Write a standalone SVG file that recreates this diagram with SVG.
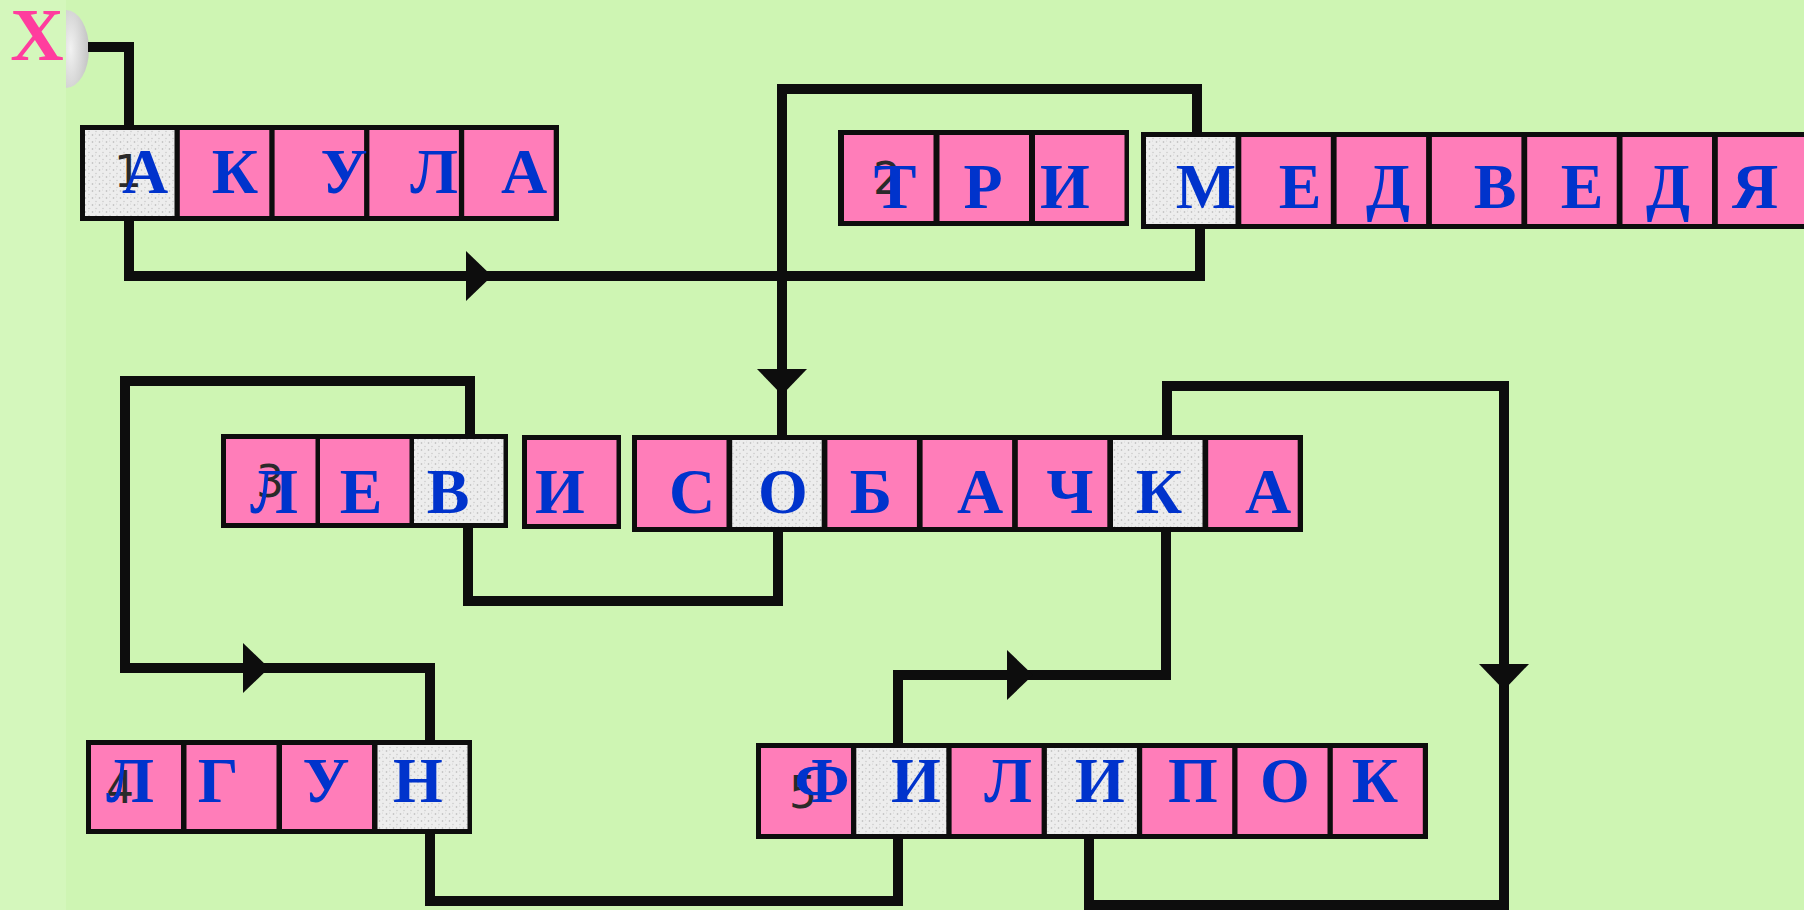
<svg xmlns="http://www.w3.org/2000/svg" xmlns:xlink="http://www.w3.org/1999/xlink" width="1804" height="910" viewBox="0 0 1804 910">
  <style>
    .line { fill: none; stroke: #0d0d0d; stroke-width: 10; stroke-linejoin: miter; stroke-linecap: butt; }
    .frame { fill: #0d0d0d; }
    .pink { fill: #FF7DB9; }
    .grey { fill: url(#speck); }
    .ltr { font-family: "Liberation Serif", "Times New Roman", serif; font-weight: bold; font-size: 64px; fill: #0033CC; text-anchor: middle; }
    .num { font-family: "DejaVu Sans", "Liberation Sans", sans-serif; font-size: 44px; fill: #2a2a2a; }
    .arrow { fill: #0d0d0d; }
  </style>
  <defs>
    <pattern id="speck" width="7" height="7" patternUnits="userSpaceOnUse">
      <rect width="7" height="7" fill="#EDEDED"/>
      <circle cx="1.5" cy="2" r="0.8" fill="#B5B5B5"/>
      <circle cx="5" cy="5.5" r="0.7" fill="#C6C6C6"/>
      <circle cx="4.5" cy="1" r="0.5" fill="#D0D0D0"/>
    </pattern>
    <radialGradient id="knobg" cx="0.2" cy="0.5" r="0.9">
      <stop offset="0" stop-color="#F2F2F2"/>
      <stop offset="1" stop-color="#BDBDBD"/>
    </radialGradient>
    <path id="ah" d="M0,0 L-26,-25 L-26,25 Z"/>
  </defs>

  <rect x="0" y="0" width="1804" height="910" fill="#CEF5B3"/>
  <rect x="0" y="0" width="66" height="910" fill="#D4F7BC"/>

  <g id="start">
    <path d="M66,10 A23,39 0 0 1 66,88 Z" fill="url(#knobg)"/>
    <text x="37" y="60" font-family="Liberation Serif, Times New Roman, serif" font-weight="bold" font-size="74" fill="#FF3D9E" text-anchor="middle">X</text>
  </g>

  <g id="connectors">
    <polyline class="line" points="88,47 129,47 129,127"/>
    <polyline class="line" points="129,219 129,276 1200,276 1200,227"/>
    <polyline class="line" points="782,437 782,89 1197,89 1197,134"/>
    <polyline class="line" points="470,436 470,381 125,381 125,668 430,668 430,742"/>
    <polyline class="line" points="468,526 468,601 778,601 778,530"/>
    <polyline class="line" points="1167,437 1167,386 1504,386 1504,905 1089,905 1089,837"/>
    <polyline class="line" points="1166,530 1166,675 898,675 898,745"/>
    <polyline class="line" points="430,832 430,901 898,901 898,837"/>
    <use href="#ah" class="arrow" transform="translate(492,276)"/>
    <use href="#ah" class="arrow" transform="translate(782,395) rotate(90)"/>
    <use href="#ah" class="arrow" transform="translate(269,668)"/>
    <use href="#ah" class="arrow" transform="translate(1033,675)"/>
    <use href="#ah" class="arrow" transform="translate(1504,690) rotate(90)"/>
  </g>

  <g id="word1">
    <rect class="frame" x="80" y="125" width="479" height="96"/>
    <rect class="grey" x="85" y="130" width="89.5" height="86"/>
    <rect class="pink" x="179.8" y="130" width="89.5" height="86"/>
    <rect class="pink" x="274.6" y="130" width="89.5" height="86"/>
    <rect class="pink" x="369.4" y="130" width="89.5" height="86"/>
    <rect class="pink" x="464.2" y="130" width="89.5" height="86"/>
    <text class="num" x="114" y="187">1</text>
    <text class="ltr" x="145" y="193">А</text>
    <text class="ltr" x="235" y="193">К</text>
    <text class="ltr" x="344" y="193">У</text>
    <text class="ltr" x="434" y="193">Л</text>
    <text class="ltr" x="524" y="193">А</text>
  </g>

  <g id="word2">
    <rect class="frame" x="838" y="130" width="291" height="96"/>
    <rect class="pink" x="844" y="135" width="89.5" height="86"/>
    <rect class="pink" x="939.5" y="135" width="89.5" height="86"/>
    <rect class="pink" x="1035" y="135" width="89.5" height="86"/>
    <rect class="frame" x="1141" y="132" width="680" height="97"/>
    <rect class="grey" x="1146" y="137" width="89.5" height="87"/>
    <rect class="pink" x="1241.3" y="137" width="89.5" height="87"/>
    <rect class="pink" x="1336.6" y="137" width="89.5" height="87"/>
    <rect class="pink" x="1431.9" y="137" width="89.5" height="87"/>
    <rect class="pink" x="1527.2" y="137" width="89.5" height="87"/>
    <rect class="pink" x="1622.5" y="137" width="89.5" height="87"/>
    <rect class="pink" x="1717.8" y="137" width="89.5" height="87"/>
    <text class="num" x="873" y="194">2</text>
    <text class="ltr" x="895" y="208">Т</text>
    <text class="ltr" x="983" y="208">Р</text>
    <text class="ltr" x="1065" y="208">И</text>
    <text class="ltr" x="1206" y="208">М</text>
    <text class="ltr" x="1300" y="208">Е</text>
    <text class="ltr" x="1388" y="208">Д</text>
    <text class="ltr" x="1495" y="208">В</text>
    <text class="ltr" x="1582" y="208">Е</text>
    <text class="ltr" x="1668" y="208">Д</text>
    <text class="ltr" x="1755" y="208">Я</text>
  </g>

  <g id="word3">
    <rect class="frame" x="221" y="434" width="287" height="94"/>
    <rect class="pink" x="226" y="439" width="89.5" height="84"/>
    <rect class="pink" x="320" y="439" width="89.5" height="84"/>
    <rect class="grey" x="414" y="439" width="89.5" height="84"/>
    <rect class="frame" x="522" y="435" width="99" height="94"/>
    <rect class="pink" x="527" y="440" width="89.5" height="84"/>
    <rect class="frame" x="632" y="435" width="671" height="97"/>
    <rect class="pink" x="637" y="440" width="89.5" height="87"/>
    <rect class="grey" x="732.2" y="440" width="89.5" height="87"/>
    <rect class="pink" x="827.4" y="440" width="89.5" height="87"/>
    <rect class="pink" x="922.6" y="440" width="89.5" height="87"/>
    <rect class="pink" x="1017.8" y="440" width="89.5" height="87"/>
    <rect class="grey" x="1113" y="440" width="89.5" height="87"/>
    <rect class="pink" x="1208.2" y="440" width="89.5" height="87"/>
    <text class="num" x="256" y="497">3</text>
    <text class="ltr" x="274" y="513">Л</text>
    <text class="ltr" x="361" y="513">Е</text>
    <text class="ltr" x="448" y="513">В</text>
    <text class="ltr" x="560" y="513">И</text>
    <text class="ltr" x="692" y="513">С</text>
    <text class="ltr" x="783" y="513">О</text>
    <text class="ltr" x="871" y="513">Б</text>
    <text class="ltr" x="980" y="513">А</text>
    <text class="ltr" x="1070" y="513">Ч</text>
    <text class="ltr" x="1159" y="513">К</text>
    <text class="ltr" x="1268" y="513">А</text>
  </g>

  <g id="word4">
    <rect class="frame" x="86" y="740" width="386" height="94"/>
    <rect class="pink" x="91" y="745" width="90" height="84"/>
    <rect class="pink" x="186.5" y="745" width="90" height="84"/>
    <rect class="pink" x="282" y="745" width="90" height="84"/>
    <rect class="grey" x="377.5" y="745" width="90" height="84"/>
    <text class="num" x="106" y="803">4</text>
    <text class="ltr" x="130" y="802">Л</text>
    <text class="ltr" x="218" y="802">Г</text>
    <text class="ltr" x="326" y="802">У</text>
    <text class="ltr" x="418" y="802">Н</text>
  </g>

  <g id="word5">
    <rect class="frame" x="756" y="743" width="672" height="96"/>
    <rect class="pink" x="761" y="748" width="90" height="86"/>
    <rect class="grey" x="856.3" y="748" width="90" height="86"/>
    <rect class="pink" x="951.6" y="748" width="90" height="86"/>
    <rect class="grey" x="1046.9" y="748" width="90" height="86"/>
    <rect class="pink" x="1142.2" y="748" width="90" height="86"/>
    <rect class="pink" x="1237.5" y="748" width="90" height="86"/>
    <rect class="pink" x="1332.8" y="748" width="90" height="86"/>
    <text class="num" x="789" y="808">5</text>
    <text class="ltr" x="822" y="802">Ф</text>
    <text class="ltr" x="916" y="802">И</text>
    <text class="ltr" x="1008" y="802">Л</text>
    <text class="ltr" x="1100" y="802">И</text>
    <text class="ltr" x="1193" y="802">П</text>
    <text class="ltr" x="1285" y="802">О</text>
    <text class="ltr" x="1375" y="802">К</text>
  </g>
</svg>
